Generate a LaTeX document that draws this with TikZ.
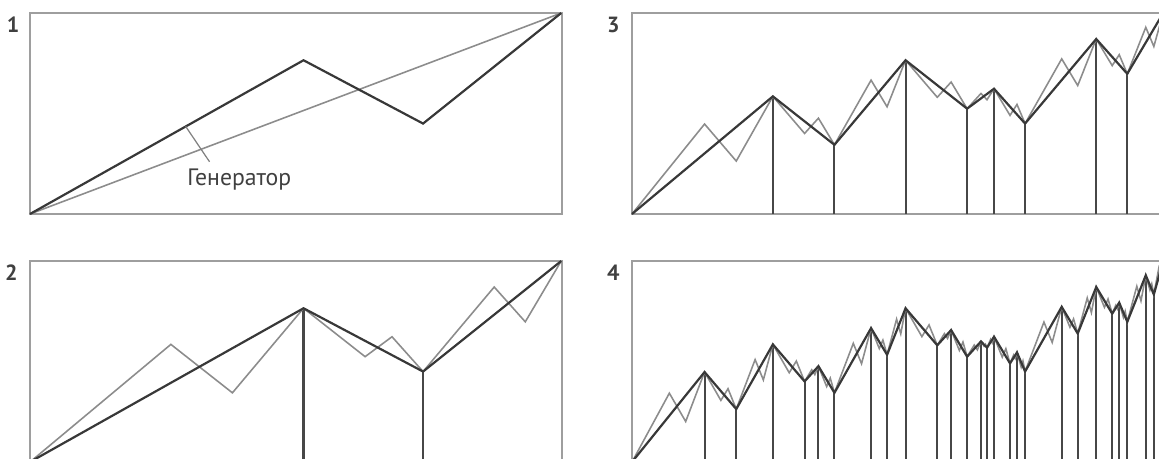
\documentclass[tikz,border=0pt]{standalone}
\usepackage{fontspec}
\setmainfont{PT Sans}
\usetikzlibrary{calc}

% corners of the generator, as fractions of the box
\newcommand\genax{0.515}
\newcommand\genay{0.765}
\newcommand\genbx{0.74}
\newcommand\genby{0.45}

% points of the level #1 curve in the unit box, named #2-0 ... #2-3^#1
\newcommand\fbmpoints[2]{%
  \pgfmathsetmacro\fbmwa{\genax}%
  \pgfmathsetmacro\fbmwb{\genbx-\genax}%
  \pgfmathsetmacro\fbmwc{1-\genbx}%
  \pgfmathsetmacro\fbmha{\genay}%
  \pgfmathsetmacro\fbmhb{\genby-\genay}%
  \pgfmathsetmacro\fbmhc{1-\genby}%
  \pgfmathtruncatemacro\fbmn{3^#1}%
  \pgfmathtruncatemacro\fbmlast{\fbmn-1}%
  \foreach \k in {0,...,\fbmlast} {
    \gdef\fbmx{0}\gdef\fbmy{0}
    \foreach \j in {1,...,#1} {
      \pgfmathtruncatemacro\fbmq{floor((\k+0.5)/3^(\j-1))}
      \pgfmathtruncatemacro\fbmt{\fbmq-3*floor((\fbmq+0.5)/3)}
      \pgfmathsetmacro\fbmnx{{0,\genax,\genbx}[\fbmt]+{\fbmwa,\fbmwb,\fbmwc}[\fbmt]*\fbmx}
      \pgfmathsetmacro\fbmny{{0,\genay,\genby}[\fbmt]+{\fbmha,\fbmhb,\fbmhc}[\fbmt]*\fbmy}
      \global\let\fbmx\fbmnx
      \global\let\fbmy\fbmny
    }
    \coordinate (#2-\k) at (\fbmx,\fbmy);
  }
  \coordinate (#2-\fbmn) at (1,1);
}

\begin{document}
\begin{tikzpicture}[
  x=0.02cm, y=-0.02cm,
  frame/.style={draw=black!38, line width=0.7pt},
  dark/.style={draw=black!78, line width=1.25pt},
  pale/.style={draw=black!45, line width=0.9pt},
  drop/.style={draw=black!72, line width=1.2pt},
  num/.style={font=\bfseries\fontsize{12.5}{14}\selectfont, text=black!75, inner sep=0pt},
  note/.style={font=\fontsize{13.5}{15}\selectfont, text=black!75, inner sep=0pt},
  lead/.style={draw=black!50, line width=0.7pt},
]
  \useasboundingbox (0,0) rectangle (1159,459);
  \clip (0,0) rectangle (1159,459);

  % 1: generator on the diagonal
  \begin{scope}[shift={(30,214)}, xscale=532, yscale=-201]
    \draw[frame] (0,0) rectangle (1,1);
    \node[num] (num1) at (-0.032,0.94) {1};
    \fbmpoints{1}{p1}
    \draw[pale] (p1-0) -- (p1-3);
    \draw[dark] (p1-0) -- (p1-1) -- (p1-2) -- (p1-3);
    \coordinate (gen) at ($(p1-0)!0.57!(p1-1)$);
    \coordinate (genend) at (0.338,0.26);
    \node[note, anchor=north west] (genlbl) at (0.295,0.225) {Генератор};
    \draw[lead] (gen) -- (genend);
  \end{scope}

  % 2-4: each level over the next one
  \foreach \n/\ox/\oy in {2/30/462, 3/632/214, 4/632/462} {
    \begin{scope}[shift={(\ox,\oy)}, xscale=532, yscale=-201]
      \draw[frame] (0,0) rectangle (1,1);
      \node[num] (num\n) at (-0.035,0.94) {\n};
      \pgfmathtruncatemacro\lv{\n-1}
      \pgfmathtruncatemacro\dn{3^\lv}
      \pgfmathtruncatemacro\dl{\dn-1}
      \pgfmathtruncatemacro\gn{3^\n}
      \fbmpoints{\lv}{d\n}
      \fbmpoints{\n}{g\n}
      \coordinate (base\n) at (0,0);
      \foreach \k in {1,...,\dl} {
        \draw[drop] (d\n-\k) -- (d\n-\k |- base\n);
      }
      \draw[pale] (g\n-0) \foreach \k in {1,...,\gn} { -- (g\n-\k) };
      \draw[dark] (d\n-0) \foreach \k in {1,...,\dn} { -- (d\n-\k) };
    \end{scope}
  }
\end{tikzpicture}
\end{document}
